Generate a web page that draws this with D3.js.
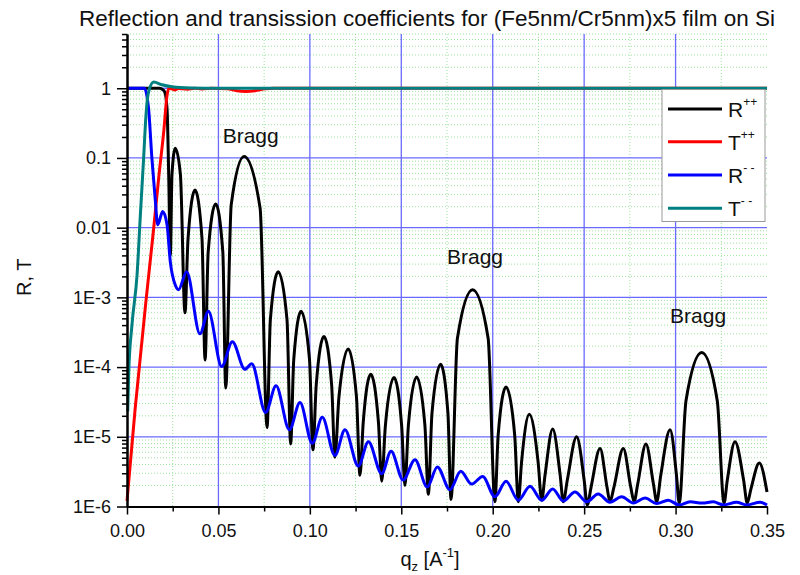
<!DOCTYPE html>
<html><head><meta charset="utf-8">
<script src="https://cdn.jsdelivr.net/npm/d3@7"></script>
<style>
body{margin:0;background:#fff}
svg{display:block}
text{font-family:"Liberation Sans",Arial,sans-serif;fill:#111}
</style>
</head><body>
<svg id="chart" width="800" height="575"></svg>
<script>
// ---------- data ----------
const titleText = "Reflection and transission coefficients for (Fe5nm/Cr5nm)x5 film on Si";
const seriesMain = ["R", "T", "R", "T"];
const seriesSup = ["++", "++", "- -", "- -"];
const seriesColors = ["#000000", "#ff0000", "#0000ff", "#008080"];

// [q, value] pairs
const rPP = [
[0,1],[0.018,1],[0.0195,0.955],[0.0206,0.89],[0.0219,0.51],[0.0228,0.058],
[0.0237,0.004],[0.0246,0.058],[0.0264,0.138],[0.0292,0.058],
[0.0317,6.0e-4],[0.0334,7.1e-3],[0.0372,0.0347],[0.041,7.1e-3],
[0.0427,1.26e-4],[0.0444,4.5e-3],[0.0485,0.0219],[0.0524,4.5e-3],
[0.054,5.0e-5],[0.057,0.0214],[0.064,0.105],[0.0728,0.019],
[0.0766,1.35e-5],[0.0784,4.8e-4],[0.0827,2.34e-3],[0.0875,4.8e-4],
[0.0895,7.9e-6],[0.0912,1.29e-4],[0.0952,6.3e-4],[0.0998,1.29e-4],
[0.1017,6.5e-6],[0.1035,5.6e-5],[0.1077,2.75e-4],[0.1119,5.6e-5],
[0.1137,5.1e-6],[0.1159,3.7e-5],[0.121,1.82e-4],[0.1255,3.7e-5],
[0.1274,2.8e-6],[0.1292,1.62e-5],[0.1333,7.9e-5],[0.1375,1.62e-5],
[0.1393,2.3e-6],[0.1413,1.45e-5],[0.146,7.1e-5],[0.1502,1.45e-5],
[0.152,2.0e-6],[0.1539,1.48e-5],[0.1584,7.2e-5],[0.1629,1.48e-5],
[0.1648,1.5e-6],[0.1668,2.2e-5],[0.1715,1.1e-4],[0.1755,2.2e-5],
[0.1772,1.26e-6],[0.1807,2.6e-4],[0.189,1.29e-3],[0.1975,2.6e-4],
[0.2012,1.17e-6],[0.203,1.07e-5],[0.2073,5.2e-5],[0.212,1.07e-5],
[0.214,1.17e-6],[0.2158,4.4e-6],[0.22,2.1e-5],[0.2248,4.4e-6],
[0.2268,1.23e-6],[0.2286,2.8e-6],[0.2328,1.29e-5],[0.2369,2.8e-6],
[0.2386,1.17e-6],[0.2408,2.4e-6],[0.2459,1.0e-5],[0.25,2.4e-6],
[0.2517,1.05e-6],[0.2538,1.9e-6],[0.2587,6.8e-6],[0.2625,1.9e-6],
[0.2641,1.17e-6],[0.2663,1.9e-6],[0.2714,6.8e-6],[0.2755,1.9e-6],
[0.2773,1.17e-6],[0.2793,2.1e-6],[0.2838,7.9e-6],[0.2879,2.1e-6],
[0.2897,1.17e-6],[0.2919,2.8e-6],[0.297,1.26e-5],[0.3005,2.8e-6],
[0.302,1.12e-6],[0.3057,3.3e-5],[0.3143,1.62e-4],[0.3228,3.3e-5],
[0.3265,1.12e-6],[0.3283,2.4e-6],[0.3325,8.5e-6],[0.3372,2.4e-6],
[0.3392,1.12e-6],[0.3412,1.78e-6],[0.3458,4.2e-6],[0.35,1.62e-6]
];
const tPP = [
[0,1.2e-6],[0.0045,2.6e-5],[0.0109,1.2e-3],[0.0146,9.8e-3],[0.0173,0.051],
[0.0201,0.24],[0.0219,0.79],[0.0228,1.0],[0.0245,0.98],[0.0262,0.945],
[0.028,0.99],[0.033,0.97],[0.037,1.0],[0.041,0.975],[0.046,1.0],[0.055,0.98],
[0.06,0.92],[0.065,0.9],[0.07,0.92],[0.0755,0.98],[0.08,1.0],[0.35,1.0]
];
const rMM = [
[0,1],[0.0095,1],[0.0118,0.51],[0.0136,0.1],[0.0154,0.026],[0.0168,0.011],
[0.0195,0.017],[0.0219,0.011],[0.0237,3.2e-3],[0.0264,1.5e-3],[0.0282,1.29e-3],
[0.0326,2.34e-3],[0.0399,3.0e-4],[0.0445,6.3e-4],[0.0518,1.02e-4],[0.0576,2.3e-4],
[0.0645,9.3e-5],[0.0682,1.12e-4],[0.0758,2.24e-5],[0.0815,5.4e-5],[0.0888,1.26e-5],
[0.0946,3.1e-5],[0.1013,8.1e-6],[0.1068,1.9e-5],[0.1137,5.4e-6],[0.1192,1.26e-5],
[0.1265,3.8e-6],[0.132,8.5e-6],[0.1393,2.95e-6],[0.1444,6.2e-6],[0.151,2.4e-6],
[0.1575,4.7e-6],[0.1642,1.9e-6],[0.1697,3.7e-6],[0.1766,1.74e-6],[0.1825,3.2e-6],
[0.1885,2.1e-6],[0.1945,2.7e-6],[0.2012,1.38e-6],[0.2073,2.3e-6],[0.214,1.23e-6],
[0.2204,1.95e-6],[0.2268,1.23e-6],[0.2328,1.78e-6],[0.2386,1.2e-6],[0.245,1.62e-6],
[0.2514,1.17e-6],[0.2577,1.51e-6],[0.2641,1.15e-6],[0.2705,1.38e-6],[0.2769,1.12e-6],
[0.2833,1.32e-6],[0.2897,1.1e-6],[0.296,1.23e-6],[0.302,1.05e-6],[0.308,1.17e-6],
[0.3145,1.12e-6],[0.3206,1.17e-6],[0.3261,1.05e-6],[0.3334,1.15e-6],[0.3389,1.05e-6],
[0.3462,1.15e-6],[0.35,1.05e-6]
];
const tMM = [
[0.0004,2.3e-5],[0.0009,7.8e-5],[0.0027,4.0e-4],[0.0055,2.1e-3],[0.0073,0.015],
[0.0091,0.1],[0.0104,0.42],[0.0118,0.89],[0.0146,1.23],[0.0191,1.12],
[0.0246,1.05],[0.035,1.01],[0.05,1.0],[0.35,1.0]
];
const allSeries = [rPP, tPP, rMM, tMM];

const xTicks = [0, 0.05, 0.10, 0.15, 0.20, 0.25, 0.30, 0.35];
const xMinorTicks = [0.025, 0.075, 0.125, 0.175, 0.225, 0.275, 0.325];
const yTicks = [1e-6, 1e-5, 1e-4, 1e-3, 0.01, 0.1, 1];
const yTickLabels = ["1E-6", "1E-5", "1E-4", "1E-3", "0.01", "0.1", "1"];
const braggLabels = [[0.0523, 0.163], [0.175, 3.0e-3], [0.297, 4.3e-4]];

// ---------- chart ----------
(function () {
const svg = d3.select("#chart");
const pLeft = 127, pRight = 767, pTop = 34, pBottom = 506.5;

const x = d3.scaleLinear().domain([0, 0.35]).range([pLeft, pRight]);
const y = d3.scaleLog().domain([1e-6, 6]).range([pBottom, pTop]);

const yMinor = [];
for (const dec of yTicks) {
  for (let m = 2; m <= 9; m++) {
    const v = dec * m;
    if (v <= 6.0001) yMinor.push(v);
  }
}

const grid = svg.append("g");
grid.selectAll(".hminor").data(yMinor).enter().append("line")
  .attr("x1", pLeft).attr("x2", pRight)
  .attr("y1", d => y(d)).attr("y2", d => y(d))
  .attr("stroke", "#9fe39f").attr("stroke-width", 1).attr("stroke-dasharray", "1,2");
grid.selectAll(".vminor").data(xMinorTicks).enter().append("line")
  .attr("y1", pTop).attr("y2", pBottom)
  .attr("x1", d => x(d)).attr("x2", d => x(d))
  .attr("stroke", "#9fe39f").attr("stroke-width", 1).attr("stroke-dasharray", "1,2");
grid.selectAll(".hmajor").data(yTicks.slice(1)).enter().append("line")
  .attr("x1", pLeft).attr("x2", pRight)
  .attr("y1", d => y(d)).attr("y2", d => y(d))
  .attr("stroke", "#6a6aff").attr("stroke-width", 1.3);
grid.selectAll(".vmajor").data(xTicks.slice(1, -1)).enter().append("line")
  .attr("y1", pTop).attr("y2", pBottom)
  .attr("x1", d => x(d)).attr("x2", d => x(d))
  .attr("stroke", "#6a6aff").attr("stroke-width", 1.3);

const line = d3.line().x(d => x(d[0])).y(d => y(d[1])).curve(d3.curveMonotoneX);
svg.append("g").selectAll("path").data(allSeries).enter().append("path")
  .attr("d", d => line(d))
  .attr("fill", "none")
  .attr("stroke", (d, i) => seriesColors[i])
  .attr("stroke-width", 3)
  .attr("stroke-linejoin", "round");

const fontSize = "18px";
const xAxis = svg.append("g").attr("transform", `translate(0,${pBottom})`)
  .call(d3.axisBottom(x).tickValues(xTicks).tickFormat(d3.format(".2f"))
    .tickSize(8).tickSizeOuter(0).tickPadding(10));
const xAxisMinor = svg.append("g").attr("transform", `translate(0,${pBottom})`)
  .call(d3.axisBottom(x).tickValues(xMinorTicks).tickFormat("").tickSize(5).tickSizeOuter(0));
const yAxis = svg.append("g").attr("transform", `translate(${pLeft},0)`)
  .call(d3.axisLeft(y).tickValues(yTicks).tickFormat((d, i) => yTickLabels[i])
    .tickSize(10).tickSizeOuter(0).tickPadding(6));
const yAxisMinor = svg.append("g").attr("transform", `translate(${pLeft},0)`)
  .call(d3.axisLeft(y).tickValues(yMinor).tickFormat("").tickSize(5).tickSizeOuter(0));
[xAxis, xAxisMinor, yAxis, yAxisMinor].forEach(g => {
  g.select(".domain").attr("stroke", "#000").attr("stroke-width", 2);
  g.selectAll(".tick line").attr("stroke", "#000").attr("stroke-width", 1.5);
  g.selectAll(".tick text").style("font-size", fontSize)
    .style("font-family", '"Liberation Sans",Arial,sans-serif').attr("fill", "#111");
});

svg.append("g").selectAll("text").data(braggLabels).enter().append("text")
  .attr("x", d => x(d[0])).attr("y", d => y(d[1]))
  .style("font-size", "21px").text("Bragg");

svg.append("text").attr("x", 79).attr("y", 26).style("font-size", "22.5px").text(titleText);

svg.append("text").attr("transform", "translate(31,296) rotate(-90)")
  .style("font-size", "20px").text("R, T");
const xl = svg.append("text").attr("x", 430).attr("y", 566).attr("text-anchor", "middle")
  .style("font-size", "20px");
xl.append("tspan").text("q");
xl.append("tspan").attr("dy", 5).style("font-size", "13px").text("z");
xl.append("tspan").attr("dy", -5).text(" [A");
xl.append("tspan").attr("dy", -9).style("font-size", "13px").text("-1");
xl.append("tspan").attr("dy", 9).text("]");

const lg = svg.append("g");
lg.append("rect").attr("x", 662).attr("y", 89.5).attr("width", 103).attr("height", 132)
  .attr("fill", "#fff").attr("stroke", "#999").attr("stroke-width", 1);
const rows = [109, 141.7, 175, 208.3];
seriesMain.forEach((m, i) => {
  lg.append("line").attr("x1", 668).attr("x2", 722).attr("y1", rows[i]).attr("y2", rows[i])
    .attr("stroke", seriesColors[i]).attr("stroke-width", 3);
  const t = lg.append("text").attr("x", 728).attr("y", rows[i] + 8).style("font-size", "21px");
  t.append("tspan").text(m);
  t.append("tspan").attr("dy", -11).style("font-size", "12px").text(seriesSup[i]);
});
})();
</script>
</body></html>
